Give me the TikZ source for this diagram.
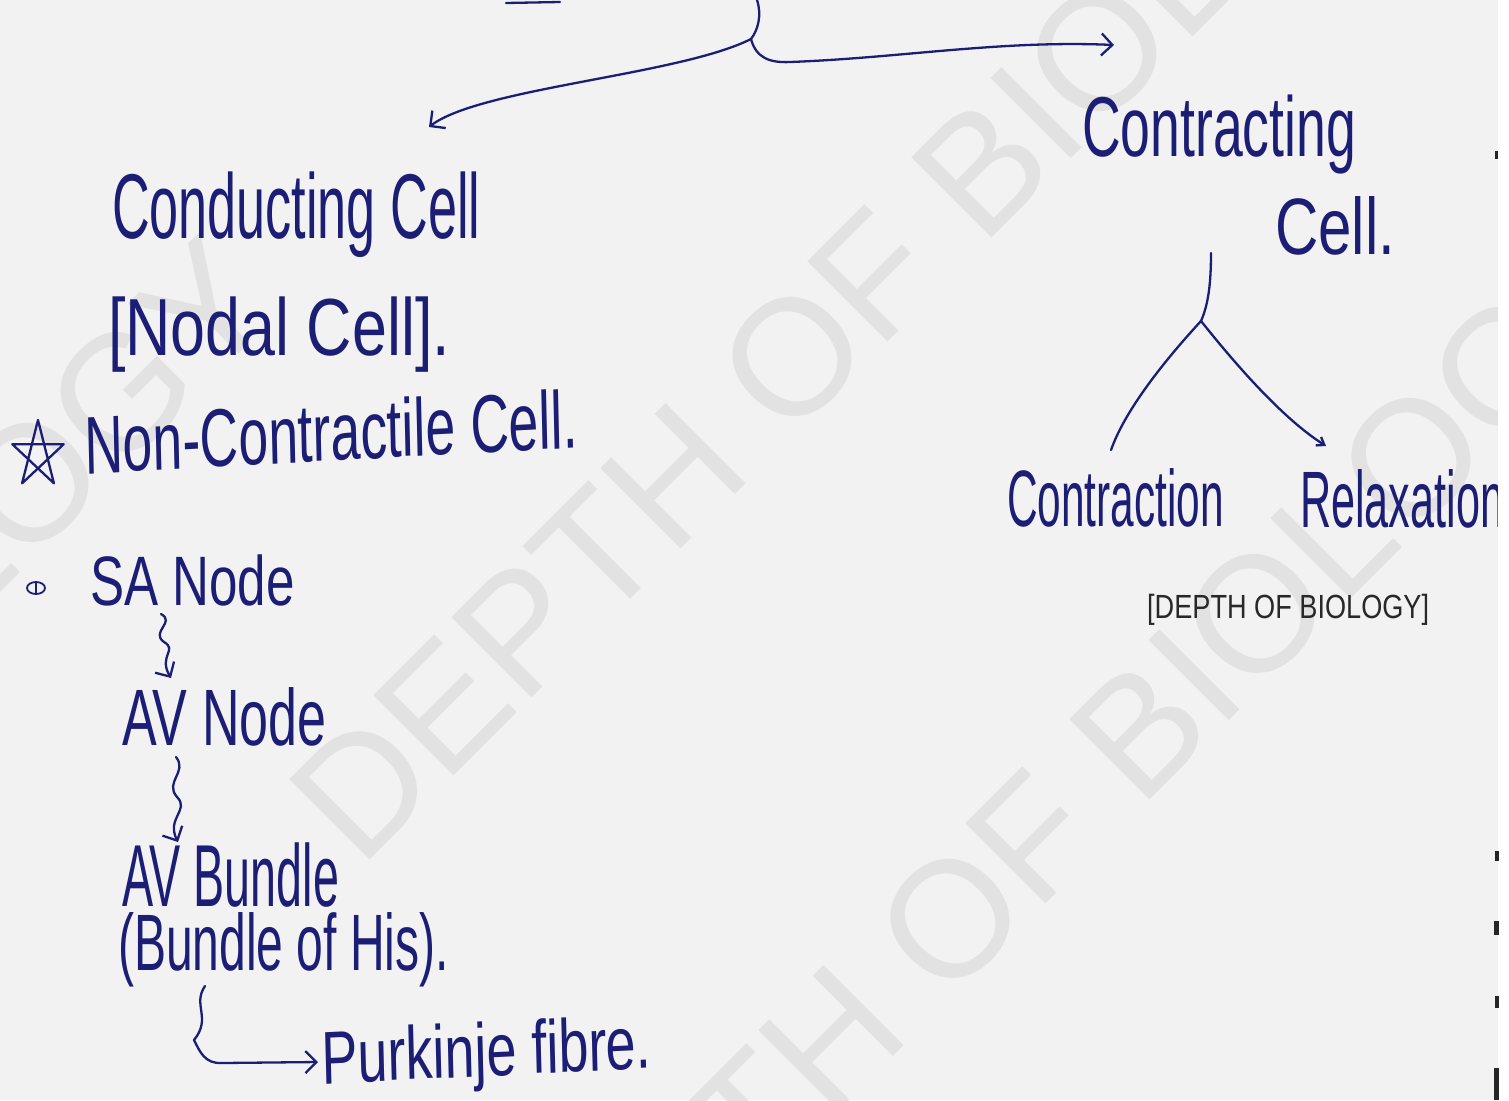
\documentclass[tikz,border=0pt]{standalone}
\usepackage{fontspec}
\setmainfont{Liberation Sans}
\usetikzlibrary{arrows.meta}
\definecolor{ink}{RGB}{28,30,118}
\definecolor{paper}{RGB}{242,242,242}
\definecolor{wmark}{RGB}{226,226,226}
\definecolor{printed}{RGB}{40,40,40}
\newcommand\hfs[1]{\fontsize{#1}{#1}\selectfont}
\tikzset{
  hw/.style={anchor=base west, inner sep=0pt, text=ink},
  inkline/.style={draw=ink, line width=2.3pt, line cap=round, line join=round},
  barb/.style={-{Straight Barb[length=11pt,width=22pt]}},
  smallbarb/.style={-{Straight Barb[length=7pt,width=10pt]}},
  wmtext/.style={anchor=base west, inner sep=0pt, text=wmark, rotate=45, font=\fontsize{165}{170}\selectfont},
  printtext/.style={anchor=base west, inner sep=0pt, text=printed},
}
\begin{document}
\begin{tikzpicture}[x=1pt,y=-1pt]
\useasboundingbox (0,0) rectangle (1509,1100);
\fill[paper] (0,0) rectangle (1509,1100);
% watermark
\begin{scope}
\clip (0,0) rectangle (1498,1100);
\node[wmtext] (wmA) at (-864,1457) {DEPTH OF BIOLOGY};
\node[wmtext] (wmB) at (360,870) {DEPTH OF BIOLOGY};
\node[wmtext] (wmC) at (518,1432) {DEPTH OF BIOLOGY};
\end{scope}

% handwritten labels
\node[hw, xscale=0.567] (cond) at (112,238) {\hfs{92}Conducting Cell};
\node[hw, xscale=0.775] (nodal) at (108,355) {\hfs{81}[Nodal Cell].};
\node[hw, xscale=0.652, rotate=2] (noncon) at (85,474) {\hfs{82}Non-Contractile Cell.};
\node[hw, xscale=0.73] (sa) at (90,605) {\hfs{70}SA Node};
\node[hw, xscale=0.65] (avn) at (122,745) {\hfs{80}AV Node};
\node[hw, xscale=0.53] (avb) at (122,906) {\hfs{88}AV Bundle};
\node[hw, xscale=0.6] (his) at (118,970) {\hfs{80}(Bundle of His).};
\node[hw, xscale=0.72, rotate=2] (pur) at (322,1084) {\hfs{75}Purkinje fibre.};
\node[hw, xscale=0.63] (ctg) at (1082,156) {\hfs{85}Contracting};
\node[hw, xscale=0.75] (ccell) at (1275,254) {\hfs{80}Cell.};
\node[hw, xscale=0.53] (ctn) at (1007,526) {\hfs{80}Contraction};
\node[hw, xscale=0.54] (rlx) at (1300,527) {\hfs{80}Relaxation};
\node[printtext, xscale=0.81] (credit) at (1147,618) {\hfs{33.5}[DEPTH OF BIOLOGY]};

% star and bullet
\coordinate (st0) at (38,420);
\coordinate (st1) at (63.7,444.2);
\coordinate (st2) at (53.9,483.3);
\coordinate (st3) at (22.1,483.3);
\coordinate (st4) at (12.3,444.2);
\draw[inkline] (st0) -- (st2) -- (st4) -- (st1) -- (st3) -- cycle;
\coordinate (bul) at (36,588);
\draw[inkline, line width=1.8pt] (bul) ellipse[x radius=9, y radius=6];
\draw[inkline, line width=1.8pt] ([yshift=5pt]bul) -- ([yshift=-5pt]bul);

% top split connectors
\coordinate (tl1) at (506,3);
\coordinate (tl2) at (560,2);
\draw[inkline] (tl1) -- (tl2);
\coordinate (top) at (757,0);
\coordinate (fork) at (751,39);
\coordinate (condtip) at (429,127);
\coordinate (ctgtip) at (1114,45);
\draw[inkline] (top) .. controls (762,15) and (758,30) .. (fork);
\draw[inkline, barb] (fork) .. controls (680,75) and (480,88) .. (condtip);
\draw[inkline, barb] (fork) .. controls (756,58) and (770,63) .. (790,62) .. controls (900,58) and (1000,40) .. (ctgtip);

% squiggly arrows (left column)
\coordinate (sqa1) at (161,614);
\coordinate (sqb1) at (171,678);
\draw[inkline, barb] (sqa1) .. controls (176,622) and (150,632) .. (164,642) .. controls (178,650) and (158,656) .. (sqb1);
\coordinate (sqa2) at (176,757);
\coordinate (sqb2) at (178,842);
\draw[inkline, barb] (sqa2) .. controls (188,772) and (164,782) .. (177,797) .. controls (190,810) and (166,818) .. (sqb2);
\coordinate (sqa3) at (205,986);
\coordinate (sqb3) at (318,1062);
\draw[inkline, barb] (sqa3) .. controls (192,1005) and (212,1018) .. (194,1040) .. controls (200,1052) and (205,1064) .. (222,1063) -- (sqb3);

% tree on the right
\coordinate (trA) at (1211,253);
\coordinate (trF) at (1201,321);
\coordinate (trL) at (1111,450);
\coordinate (trR) at (1326,446);
\draw[inkline] (trA) .. controls (1211,285) and (1208,305) .. (trF);
\draw[inkline] (trF) .. controls (1165,360) and (1125,410) .. (trL);
\draw[inkline, smallbarb] (trF) .. controls (1240,370) and (1285,420) .. (trR);

% right edge strip and scan marks
\fill[white] (1498,0) rectangle (1509,1100);
\fill[black!85] (1495,151) rectangle (1498,159);
\fill[black!85] (1495,851) rectangle (1499,861);
\fill[black!85] (1494,921) rectangle (1499,935);
\fill[black!85] (1495,996) rectangle (1499,1008);
\fill[black!85] (1494,1068) rectangle (1499,1100);
\end{tikzpicture}
\end{document}
